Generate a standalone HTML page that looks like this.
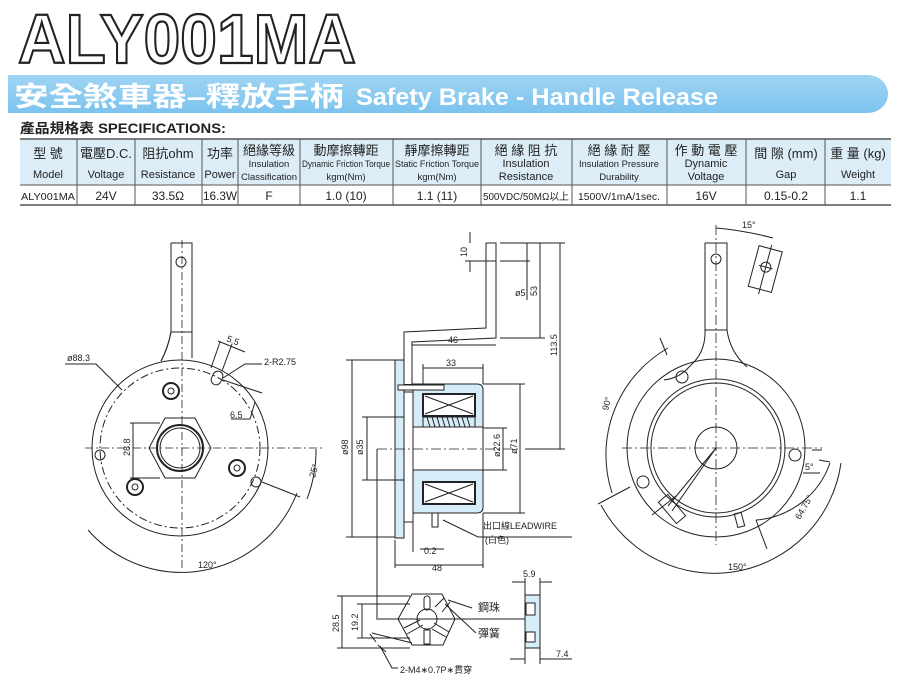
<!DOCTYPE html>
<html><head><meta charset="utf-8"><style>
html,body{margin:0;padding:0;background:#fff;width:900px;height:686px;overflow:hidden}
svg{display:block}
text{font-family:"Liberation Sans","Noto Sans CJK TC",sans-serif;fill:#222}
</style></head><body>
<svg width="900" height="686" viewBox="0 0 900 686" xmlns="http://www.w3.org/2000/svg">
<defs>
<linearGradient id="bg" x1="0" y1="0" x2="0" y2="1"><stop offset="0" stop-color="#9fd4f3"/><stop offset="1" stop-color="#7cc3ee"/></linearGradient>
</defs>
<!-- Title -->
<text x="18" y="63" font-size="70" font-weight="bold" textLength="338" lengthAdjust="spacingAndGlyphs" style="fill:#fff;stroke:#222;stroke-width:2.2">ALY001MA</text>
<!-- Banner -->
<path d="M8 75 H868 A20 19 0 0 1 868 113 H8 Z" fill="url(#bg)"/>
<text x="14" y="106" font-size="27" font-weight="bold" style="fill:#fff" textLength="330" lengthAdjust="spacingAndGlyphs">安全煞車器–釋放手柄</text>
<text x="356" y="105" font-size="24" font-weight="bold" style="fill:#fff" textLength="362" lengthAdjust="spacingAndGlyphs">Safety Brake - Handle Release</text>
<text x="20" y="133" font-size="13.5" font-weight="bold" textLength="206" lengthAdjust="spacingAndGlyphs">產品規格表 SPECIFICATIONS:</text>
<!-- Table -->
<rect x="20" y="139" width="871" height="46" fill="#dcedf8"/>
<g stroke="#555" stroke-width="1" fill="none">
<line x1="20" y1="139" x2="891" y2="139" stroke-width="1.5"/>
<line x1="20" y1="185" x2="891" y2="185"/>
<line x1="20" y1="205" x2="891" y2="205" stroke-width="1.5"/>
<line x1="77" y1="139" x2="77" y2="205"/><line x1="135" y1="139" x2="135" y2="205"/>
<line x1="202" y1="139" x2="202" y2="205"/><line x1="238" y1="139" x2="238" y2="205"/>
<line x1="300" y1="139" x2="300" y2="205"/><line x1="393" y1="139" x2="393" y2="205"/>
<line x1="481" y1="139" x2="481" y2="205"/><line x1="572" y1="139" x2="572" y2="205"/>
<line x1="667" y1="139" x2="667" y2="205"/><line x1="746" y1="139" x2="746" y2="205"/>
<line x1="825" y1="139" x2="825" y2="205"/>
</g>
<g font-size="12" text-anchor="middle">
<text x="48" y="158" font-size="13">型 號</text><text x="48" y="178" font-size="11">Model</text>
<text x="106" y="158" font-size="13">電壓D.C.</text><text x="106" y="178" font-size="11">Voltage</text>
<text x="168" y="158" font-size="13">阻抗ohm</text><text x="168" y="178" font-size="11">Resistance</text>
<text x="220" y="158" font-size="13">功率</text><text x="220" y="178" font-size="11">Power</text>
<text x="269" y="155" font-size="13">絕緣等級</text><text x="269" y="167" font-size="9.5">Insulation</text><text x="269" y="180" font-size="9.5">Classification</text>
<text x="346" y="155" font-size="13">動摩擦轉距</text><text x="346" y="167" font-size="9.5" textLength="88" lengthAdjust="spacingAndGlyphs">Dynamic Friction Torque</text><text x="346" y="180" font-size="9.5">kgm(Nm)</text>
<text x="437" y="155" font-size="13">靜摩擦轉距</text><text x="437" y="167" font-size="9.5" textLength="84" lengthAdjust="spacingAndGlyphs">Static Friction Torque</text><text x="437" y="180" font-size="9.5">kgm(Nm)</text>
<text x="526" y="155" font-size="13">絕 緣 阻 抗</text><text x="526" y="167" font-size="11">Insulation</text><text x="526" y="180" font-size="11">Resistance</text>
<text x="619" y="155" font-size="13">絕 緣 耐 壓</text><text x="619" y="167" font-size="9.5" textLength="80" lengthAdjust="spacingAndGlyphs">Insulation Pressure</text><text x="619" y="180" font-size="9.5">Durability</text>
<text x="706" y="155" font-size="13">作 動 電 壓</text><text x="706" y="167" font-size="11">Dynamic</text><text x="706" y="180" font-size="11">Voltage</text>
<text x="786" y="158" font-size="13">間 隙 (mm)</text><text x="786" y="178" font-size="11">Gap</text>
<text x="858" y="158" font-size="13">重 量 (kg)</text><text x="858" y="178" font-size="11">Weight</text>
<text x="48" y="200" font-size="10.5" textLength="54" lengthAdjust="spacingAndGlyphs">ALY001MA</text>
<text x="106" y="200">24V</text><text x="168" y="200">33.5Ω</text>
<text x="220" y="200" textLength="34" lengthAdjust="spacingAndGlyphs">16.3W</text>
<text x="269" y="200">F</text><text x="346" y="200">1.0 (10)</text><text x="437" y="200">1.1 (11)</text>
<text x="526" y="200" font-size="10" textLength="86" lengthAdjust="spacingAndGlyphs">500VDC/50MΩ以上</text>
<text x="619" y="200" font-size="10.5" textLength="82" lengthAdjust="spacingAndGlyphs">1500V/1mA/1sec.</text>
<text x="706" y="200">16V</text><text x="786" y="200">0.15-0.2</text><text x="858" y="200">1.1</text>
</g>

<!-- LEFT VIEW -->
<g stroke="#222" stroke-width="1" fill="none">
<path d="M171 243 H192 V358 M171 243 V332 Q168 348 161 361"/>
<line x1="171" y1="332" x2="192" y2="332"/>
<circle cx="180" cy="448" r="88" fill="#fff"/>
<path d="M171 243 V332 Q168 348 161 361" />
<circle cx="180" cy="448" r="80" stroke-dasharray="8 3 2 3"/>
<circle cx="181" cy="262" r="5"/>
<polygon points="165,418 195,418 211,448 195,478 165,478 149,448"/>
<circle cx="180" cy="448" r="23" stroke-width="2"/>
<circle cx="180" cy="448" r="20"/>
<circle cx="171" cy="391" r="8" stroke-width="2"/><circle cx="171" cy="391" r="3"/>
<circle cx="135" cy="487" r="8" stroke-width="2"/><circle cx="135" cy="487" r="3"/>
<circle cx="237" cy="468" r="8" stroke-width="2"/><circle cx="237" cy="468" r="3"/>
<circle cx="100" cy="455" r="5"/><circle cx="256" cy="482" r="5"/>
<rect x="212" y="371" width="10" height="14" rx="5" transform="rotate(25 217 378)"/>
<g stroke-dasharray="8 3 2 3" stroke-width="0.8">
<line x1="182" y1="240" x2="182" y2="570"/><line x1="85" y1="448" x2="325" y2="448"/>
</g>
<line x1="130" y1="423" x2="160" y2="423"/><line x1="130" y1="478" x2="160" y2="478"/>
<line x1="133" y1="423" x2="133" y2="478"/>
<path d="M65 364 H96 L122 390"/>
<path d="M218 341 L245 352 M222 371 L232 344 M211 368 L220 342"/>
<path d="M262 364 H245 L223 378"/>
<path d="M223 380 L262 393 M231 419 H250 L255 402"/>
<line x1="262" y1="482" L="" x2="300" y2="497"/>
<path d="M88 530 A124 124 0 0 0 297 493"/>
<path d="M316 449 A136 136 0 0 1 307 499"/>
</g>
<g font-size="9">
<text x="67" y="361">ø88.3</text>
<text x="226" y="341" transform="rotate(22 226 341)">5.5</text>
<text x="264" y="365">2-R2.75</text>
<text x="230" y="418">6.5</text>
<text x="130" y="456" transform="rotate(-90 130 456)">28.8</text>
<text x="315" y="478" transform="rotate(-75 315 478)">25°</text>
<text x="198" y="568">120°</text>
</g>

<!-- MIDDLE SIDE VIEW -->
<g stroke="#222" stroke-width="1" fill="none">
<rect x="395" y="360" width="9" height="178" fill="#d6ecf8"/>
<path d="M404 384 H477 Q483 384 483 390 V507 Q483 513 477 513 H413 V384" fill="#d6ecf8"/>
<rect x="413" y="427" width="70" height="43" fill="#fff"/>
<rect x="404" y="392" width="9" height="130" fill="#fff"/>
<rect x="423" y="394" width="52" height="22" stroke-width="2" fill="#fff"/>
<path d="M425 396 L473 414 M425 414 L473 396"/>
<rect x="423" y="482" width="52" height="22" stroke-width="2" fill="#fff"/>
<path d="M425 484 L473 502 M425 502 L473 484"/>
<path d="M423 417 h52 v10 h-52 z M427 417 l3 10 M432 417 l3 10 M437 417 l3 10 M442 417 l3 10 M447 417 l3 10 M452 417 l3 10 M457 417 l3 10 M462 417 l3 10 M467 417 l3 10"/>
<path d="M404 384 V332 L486 328 V243 H496 V338 L412 342 V384" fill="#fff"/>
<line x1="486" y1="261" x2="496" y2="261"/>
<rect x="398" y="385" width="46" height="5" fill="#fff"/>
<rect x="432" y="513" width="6" height="14"/>
<g stroke-dasharray="10 3 2 3" stroke-width="0.8"><line x1="377" y1="449" x2="520" y2="449"/></g>
<line x1="377" y1="449" x2="377" y2="620"/>
<line x1="352" y1="360" x2="352" y2="537"/><line x1="346" y1="360" x2="395" y2="360"/><line x1="346" y1="537" x2="395" y2="537"/>
<line x1="367" y1="417" x2="367" y2="480"/><line x1="362" y1="417" x2="404" y2="417"/><line x1="362" y1="480" x2="404" y2="480"/>
<line x1="423" y1="368" x2="483" y2="368"/><line x1="423" y1="364" x2="423" y2="384"/><line x1="483" y1="364" x2="483" y2="384"/>
<line x1="412" y1="345" x2="496" y2="345"/>
<line x1="503" y1="428" x2="503" y2="470"/><line x1="483" y1="428" x2="507" y2="428"/><line x1="483" y1="470" x2="507" y2="470"/>
<line x1="520" y1="384" x2="520" y2="513"/><line x1="483" y1="384" x2="525" y2="384"/><line x1="483" y1="513" x2="525" y2="513"/>
<line x1="540" y1="243" x2="540" y2="338"/><line x1="500" y1="243" x2="565" y2="243"/><line x1="500" y1="338" x2="545" y2="338"/>
<line x1="560" y1="243" x2="560" y2="449"/><line x1="525" y1="449" x2="565" y2="449"/>
<line x1="527" y1="243" x2="527" y2="300"/><line x1="500" y1="261" x2="530" y2="261"/>
<line x1="470" y1="232" x2="470" y2="243"/><line x1="470" y1="261" x2="470" y2="272"/><line x1="465" y1="261" x2="486" y2="261"/>
<path d="M443 520 L478 537 H572"/>
<line x1="420" y1="549" x2="444" y2="549"/><line x1="413" y1="515" x2="413" y2="552"/>
<line x1="395" y1="565" x2="483" y2="565"/><line x1="395" y1="540" x2="395" y2="568"/><line x1="483" y1="513" x2="483" y2="568"/>
<!-- lower -->
<polygon points="412,594 442,594 455,619 443,645 412,645 398,619" fill="#fff"/>
<circle cx="427" cy="619" r="10"/>
<rect x="424" y="596" width="6" height="14" rx="3"/><rect x="424" y="630" width="6" height="14"/>
<path d="M404 628 L420 620 M407 634 L423 625 M434 623 L449 632 M432 629 L446 637" />
<path d="M442 612 L450 602 M435 607 L444 598"/>
<line x1="378" y1="619" x2="540" y2="619"/>
<line x1="342" y1="596" x2="342" y2="648"/><line x1="337" y1="596" x2="410" y2="596"/><line x1="337" y1="648" x2="410" y2="648"/>
<line x1="362" y1="604" x2="362" y2="638"/><line x1="357" y1="604" x2="410" y2="604"/><line x1="357" y1="638" x2="410" y2="638"/>
<path d="M448 600 L472 608 M445 604 L476 633"/>
<path d="M372 633 L412 643 M380 646 L392 668 H398"/>
<path d="M370 634 L376 642 M378 645 L386 652"/>
<rect x="525" y="595" width="15" height="53" fill="#d6ecf8"/>
<rect x="526" y="603" width="9" height="12" fill="#fff"/><rect x="526" y="632" width="9" height="10" fill="#fff"/>
<line x1="512" y1="582" x2="525" y2="582"/><line x1="540" y1="582" x2="552" y2="582"/><line x1="525" y1="578" x2="525" y2="595"/><line x1="540" y1="578" x2="540" y2="595"/>
<line x1="510" y1="659" x2="525" y2="659"/><line x1="540" y1="659" x2="572" y2="659"/><line x1="525" y1="648" x2="525" y2="664"/><line x1="540" y1="648" x2="540" y2="664"/>
</g>
<g font-size="9">
<text x="348" y="455" transform="rotate(-90 348 455)">ø98</text>
<text x="363" y="455" transform="rotate(-90 363 455)">ø35</text>
<text x="446" y="366">33</text>
<text x="448" y="343">46</text>
<text x="500" y="457" transform="rotate(-90 500 457)">ø22.6</text>
<text x="517" y="454" transform="rotate(-90 517 454)">ø71</text>
<text x="537" y="296" transform="rotate(-90 537 296)">53</text>
<text x="557" y="356" transform="rotate(-90 557 356)">113.5</text>
<text x="467" y="257" transform="rotate(-90 467 257)">10</text>
<text x="515" y="296">ø5</text>
<text x="424" y="554">0.2</text>
<text x="432" y="571">48</text>
<text x="483" y="529">出口線LEADWIRE</text>
<text x="485" y="543">(白色)</text>
<text x="339" y="632" transform="rotate(-90 339 632)">28.5</text>
<text x="358" y="631" transform="rotate(-90 358 631)">19.2</text>
<text x="478" y="611" font-size="11">鋼珠</text>
<text x="478" y="637" font-size="11">彈簧</text>
<text x="523" y="577">5.9</text>
<text x="556" y="657">7.4</text>
<text x="400" y="673">2-M4∗0.7P∗貫穿</text>
</g>

<!-- RIGHT VIEW -->
<g stroke="#222" stroke-width="1" fill="none">
<circle cx="716" cy="448" r="89"/>
<path d="M705 243 H727 V330 Q730 352 747 367 M705 243 V330 Q706 352 690 366 Q680 378 664 380"/>
<path d="M705 330 H727"/>
<circle cx="716" cy="448" r="69"/>
<circle cx="716" cy="448" r="65"/>
<circle cx="716" cy="448" r="21"/>
<circle cx="716" cy="259" r="5"/>
<g transform="rotate(15 765 270)"><rect x="753" y="248" width="24" height="42"/><circle cx="765" cy="267" r="5"/><line x1="765" y1="244" x2="765" y2="295"/><line x1="758" y1="267" x2="772" y2="267"/></g>
<circle cx="682" cy="377" r="6"/><circle cx="795" cy="455" r="6"/><circle cx="643" cy="482" r="6"/>
<path d="M716 448 L672 511 M716 448 L668 506 M652 515 L676 496"/>
<rect x="666" y="495" width="12" height="28" transform="rotate(-40 672 509)"/>
<rect x="736" y="513" width="7" height="14" transform="rotate(-15 739 520)"/>
<g stroke-dasharray="10 3 2 3" stroke-width="0.8">
<line x1="716" y1="225" x2="716" y2="545"/><line x1="622" y1="448" x2="822" y2="448"/>
</g>
<path d="M716 228 Q742 230 773 238"/>
<path d="M612 493 A123 123 0 0 1 668 348"/>
<path d="M601 505 A128 128 0 0 0 841 463"/>
<path d="M756 520 A85 85 0 0 0 830 463"/>
<path d="M812 450 L822 450 M819 460 L830 462 M803 473 H820"/>
<path d="M756 520 L767 549 M660 338 L667 355 M598 504 L630 487"/>
</g>
<g font-size="9">
<text x="742" y="228">15°</text>
<text x="608" y="411" transform="rotate(-75 608 411)">90°</text>
<text x="805" y="470">5°</text>
<text x="800" y="520" transform="rotate(-60 800 520)">64.75°</text>
<text x="728" y="570">150°</text>
</g>
</svg>
</body></html>
